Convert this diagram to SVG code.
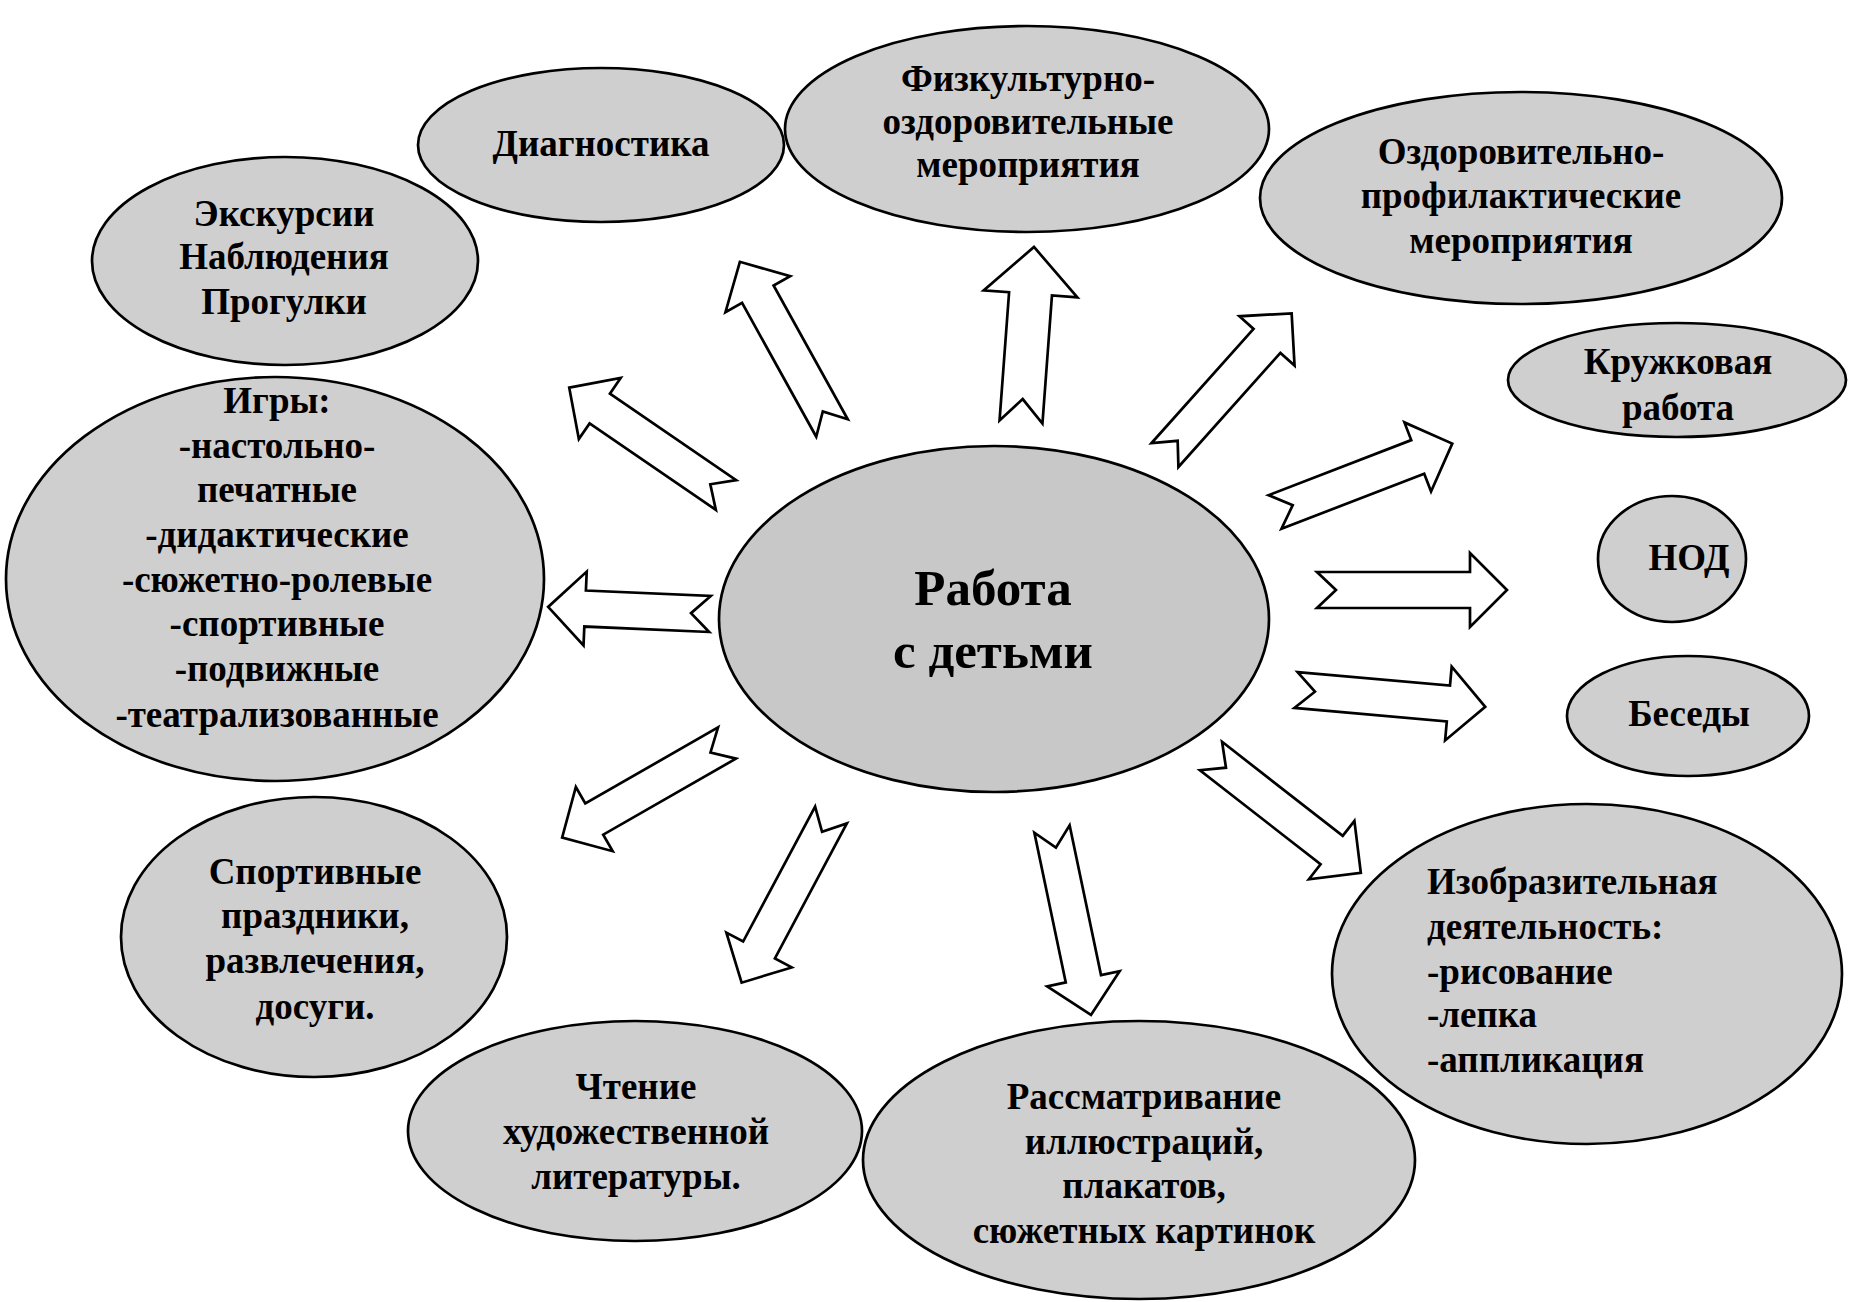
<svg xmlns="http://www.w3.org/2000/svg" xmlns:xlink="http://www.w3.org/1999/xlink" width="1849" height="1302" viewBox="0 0 1849 1302">
<style>
.node{fill:#d0cfd0;stroke:#000;stroke-width:2.7}
.center{fill:#c8c8c8;stroke:#000;stroke-width:2.7}
.arrow{fill:#fff;stroke:#000;stroke-width:2.7;stroke-linejoin:miter}
text{font-family:"Liberation Serif","Times New Roman",serif;font-weight:bold;font-size:37px;fill:#000}
.c{text-anchor:middle}
.big{font-size:51px}
</style>
<defs>
<polygon id="arr190" points="0,-18 153,-18 153,-37 190,0 153,37 153,18 0,18 19,0"/>
</defs>
<rect width="1849" height="1302" fill="#fff"/>
<g id="connectors">
<use xlink:href="#arr190" class="arrow" transform="translate(832,428) rotate(-119)"/>
<use xlink:href="#arr190" class="arrow" transform="translate(726,495) rotate(-145.6)"/>
<polygon class="arrow" points="0,-21.5 128.5,-21.5 128.5,-47 175.5,0 128.5,47 128.5,21.5 0,21.5 23,0" transform="translate(1021,422) rotate(-85.75)"/>
<use xlink:href="#arr190" class="arrow" transform="translate(1165,455) rotate(-48.2)"/>
<use xlink:href="#arr190" class="arrow" transform="translate(1275,512) rotate(-21.1)"/>
<use xlink:href="#arr190" class="arrow" transform="translate(1317,590) rotate(0)"/>
<use xlink:href="#arr190" class="arrow" transform="translate(1296,690) rotate(5.09)"/>
<use xlink:href="#arr190" class="arrow" transform="translate(1211,756) rotate(37.95)"/>
<use xlink:href="#arr190" class="arrow" transform="translate(1052,829) rotate(78.16)"/>
<use xlink:href="#arr190" class="arrow" transform="translate(831,815) rotate(118.06)"/>
<use xlink:href="#arr190" class="arrow" transform="translate(727,743) rotate(150.18)"/>
<polygon class="arrow" points="0,-18 125,-18 125,-37 162,0 125,37 125,18 0,18 19,0" transform="translate(710,614) rotate(-177.5)"/>
</g>
<g id="center">
<ellipse class="center" cx="994" cy="619" rx="275" ry="173"/>
<text class="c big" x="993" y="605">Работа</text>
<text class="c big" x="993" y="668">с детьми</text>
</g>
<g id="diagnostika">
<ellipse class="node" cx="601" cy="145" rx="183" ry="77"/>
<text class="c" x="601" y="156">Диагностика</text>
</g>
<g id="fizkult">
<ellipse class="node" cx="1027" cy="129" rx="242" ry="103"/>
<text class="c" x="1028" y="91">Физкультурно-</text>
<text class="c" x="1028" y="134">оздоровительные</text>
<text class="c" x="1028" y="177">мероприятия</text>
</g>
<g id="ozdorov">
<ellipse class="node" cx="1521" cy="198" rx="261" ry="106"/>
<text class="c" x="1521" y="164">Оздоровительно-</text>
<text class="c" x="1521" y="208">профилактические</text>
<text class="c" x="1521" y="253">мероприятия</text>
</g>
<g id="kruzhok">
<ellipse class="node" cx="1677" cy="380" rx="169" ry="57"/>
<text class="c" x="1678" y="374">Кружковая</text>
<text class="c" x="1678" y="420">работа</text>
</g>
<g id="nod">
<ellipse class="node" cx="1672" cy="559" rx="74" ry="63"/>
<text class="c" x="1689" y="570">НОД</text>
</g>
<g id="besedy">
<ellipse class="node" cx="1688" cy="716" rx="121" ry="60"/>
<text class="c" x="1689" y="726">Беседы</text>
</g>
<g id="izo">
<ellipse class="node" cx="1587" cy="974" rx="255" ry="170"/>
<text x="1427" y="894">Изобразительная</text>
<text x="1427" y="939">деятельность:</text>
<text x="1427" y="984">-рисование</text>
<text x="1427" y="1027">-лепка</text>
<text x="1427" y="1072">-аппликация</text>
</g>
<g id="rassmatr">
<ellipse class="node" cx="1139" cy="1160" rx="276" ry="139"/>
<text class="c" x="1144" y="1109">Рассматривание</text>
<text class="c" x="1144" y="1154">иллюстраций,</text>
<text class="c" x="1144" y="1198">плакатов,</text>
<text class="c" x="1144" y="1243">сюжетных картинок</text>
</g>
<g id="chtenie">
<ellipse class="node" cx="635" cy="1131" rx="227" ry="110"/>
<text class="c" x="636" y="1099">Чтение</text>
<text class="c" x="636" y="1144">художественной</text>
<text class="c" x="636" y="1189">литературы.</text>
</g>
<g id="sport">
<ellipse class="node" cx="314" cy="937" rx="193" ry="140"/>
<text class="c" x="315" y="884">Спортивные</text>
<text class="c" x="315" y="928">праздники,</text>
<text class="c" x="315" y="973">развлечения,</text>
<text class="c" x="315" y="1019">досуги.</text>
</g>
<g id="igry">
<ellipse class="node" cx="275" cy="579" rx="269" ry="202"/>
<text class="c" x="277" y="413">Игры:</text>
<text class="c" x="277" y="458">-настольно-</text>
<text class="c" x="277" y="502">печатные</text>
<text class="c" x="277" y="547">-дидактические</text>
<text class="c" x="277" y="592">-сюжетно-ролевые</text>
<text class="c" x="277" y="636">-спортивные</text>
<text class="c" x="277" y="681">-подвижные</text>
<text class="c" x="277" y="727">-театрализованные</text>
</g>
<g id="ekskursii">
<ellipse class="node" cx="285" cy="261" rx="193" ry="104"/>
<text class="c" x="284" y="226">Экскурсии</text>
<text class="c" x="284" y="269">Наблюдения</text>
<text class="c" x="284" y="314">Прогулки</text>
</g>
</svg>
